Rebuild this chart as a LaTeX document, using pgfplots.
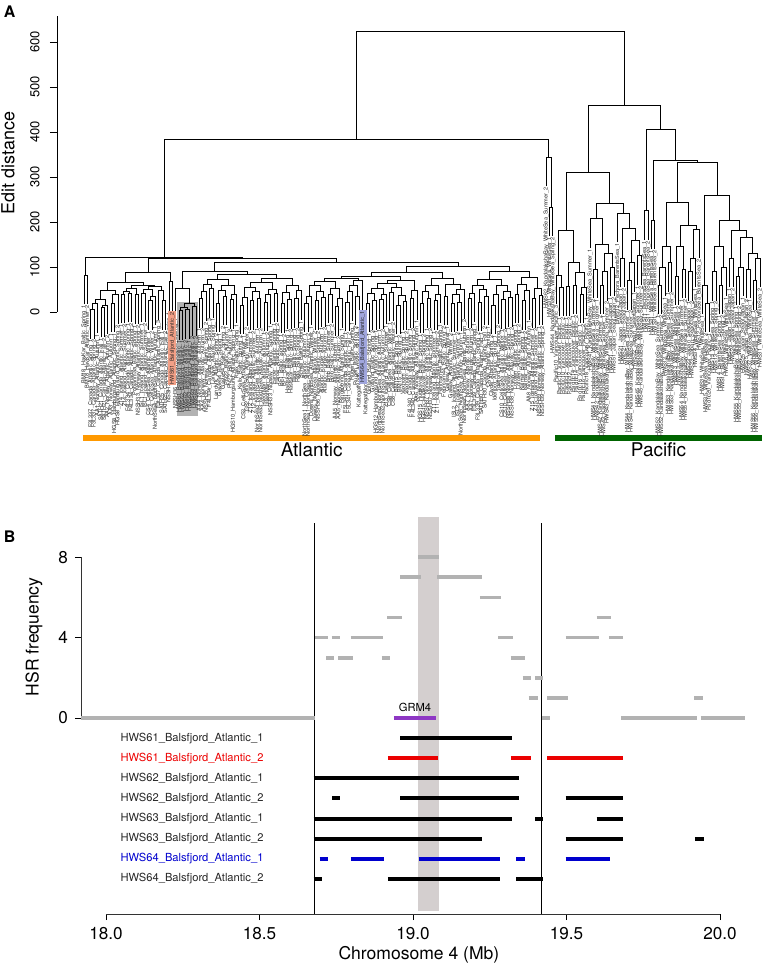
\documentclass[border=0pt]{standalone}
\usepackage{fontspec}
\setmainfont{TeX Gyre Heros}
\usepackage{pgfplots}
\usepackage{pgfplotstable}
\pgfplotsset{compat=1.18}
\definecolor{hsrgray}{RGB}{178,178,178}
\definecolor{bandgray}{RGB}{212,207,207}
\definecolor{grmpurple}{RGB}{142,55,196}
\definecolor{atlorange}{RGB}{255,153,0}
\definecolor{pacgreen}{RGB}{0,100,0}
\definecolor{hlred}{RGB}{242,160,135}
\definecolor{hlblue}{RGB}{160,166,221}
\definecolor{rowred}{RGB}{235,0,0}
\definecolor{rowblue}{RGB}{0,0,205}

\pgfplotstableread[row sep=\\]{
x y lab\\
0 17 BM18\_HavKar\_Baltic\_Spring\_1\\
1 17 BM18\_HavKar\_Atlantic\_Winter\_2\\
2 -59 F3L337\_Canada\_Atlantic\_Spring\_1\\
3 -59 F3L337\_Canada\_Atlantic\_Spring\_2\\
4 -47 AA1\_Norway\_Atlantic\_Autumn\_1\\
5 -56 SATH21\_Canada\_Atlantic\_Fall\_1\\
6 -56 SATH21\_Canada\_Atlantic\_Fall\_2\\
7 -50 AA2\_Norway\_Atlantic\_Autumn\_2\\
8 -45 AA3\_Norway\_Atlantic\_Autumn\_1\\
9 -45 HGS8\_Hamburgsund\_Atlantic\_Spring\_1\\
10 -27 HGS8\_Hamburgsund\_Atlantic\_Spring\_2\\
11 -25 Z14\_Iceland\_Atlantic\_Summer\_1\\
12 -25 Z14\_Iceland\_Atlantic\_Summer\_2\\
13 -23 F4L334\_Canada\_Atlantic\_Spring\_1\\
14 -23 F4L334\_Canada\_Atlantic\_Spring\_2\\
15 -27 Pohjanmaa\_Baltic\_Spring\_1\\
16 -27 NSSH33\_Norway\_Atlantic\_Spring\_2\\
17 -23 ISL1\_Iceland\_Atlantic\_Summer\_1\\
18 -23 ISL1\_Iceland\_Atlantic\_Summer\_2\\
19 -40 CS4\_CelticSea\_Atlantic\_Winter\_1\\
20 -40 CS4\_CelticSea\_Atlantic\_Winter\_2\\
21 -30 NorthSea4\_NorthSea\_Atlantic\_Autumn\_1\\
22 -17 F3L337\_Canada\_Atlantic\_Spring\_3\\
23 -40 SATH25\_Canada\_Atlantic\_Fall\_1\\
24 -40 SATH25\_Canada\_Atlantic\_Fall\_2\\
25 2 NSSH34\_Norway\_Atlantic\_Spring\_1\\
27 -12 NSSH36\_Norway\_Atlantic\_Spring\_1\\
28 -62 HWS61\_Balsfjord\_Atlantic\_1\\
29 -62 HWS62\_Balsfjord\_Atlantic\_1\\
30 -60 HWS62\_Balsfjord\_Atlantic\_2\\
31 -60 HWS63\_Balsfjord\_Atlantic\_1\\
32 -53 HWS63\_Balsfjord\_Atlantic\_2\\
33 -53 HWS64\_Balsfjord\_Atlantic\_2\\
34 -35 AA4\_Norway\_Atlantic\_Autumn\_1\\
35 -35 AA4\_Norway\_Atlantic\_Autumn\_2\\
36 -20 NSSH35\_Norway\_Atlantic\_Spring\_2\\
37 -13 F4L334\_Canada\_Atlantic\_Spring\_3\\
38 -13 Landvik\_Atlantic\_Spring\_1\\
39 -45 Landvik\_Atlantic\_Spring\_2\\
40 -45 Gavle54\_Baltic\_Spring\_1\\
41 -30 Gavle54\_Baltic\_Spring\_2\\
42 -30 PN22\_Baltic\_Autumn\_1\\
43 -37 PN22\_Baltic\_Autumn\_2\\
44 -37 HGS10\_Hamburgsund\_Atlantic\_Spring\_1\\
45 -25 Kalix\_Baltic\_Spring\_1\\
46 -50 Kalix\_Baltic\_Spring\_2\\
47 -50 CS2\_CelticSea\_Atlantic\_Winter\_1\\
48 -32 CS2\_CelticSea\_Atlantic\_Winter\_2\\
49 -40 Z12\_Iceland\_Atlantic\_Summer\_1\\
50 -40 Z12\_Iceland\_Atlantic\_Summer\_2\\
51 -35 NorthSea3\_NorthSea\_Atlantic\_Autumn\_1\\
52 -35 NorthSea3\_NorthSea\_Atlantic\_Autumn\_2\\
53 -43 IsleofMan\_Atlantic\_Autumn\_1\\
54 -43 IsleofMan\_Atlantic\_Autumn\_2\\
55 -27 NSSH33\_Norway\_Atlantic\_Spring\_1\\
56 -23 Faroe\_Atlantic\_Spring\_1\\
57 -23 Faroe\_Atlantic\_Spring\_2\\
58 -47 BF1\_Baltic\_Spring\_1\\
59 -47 BF1\_Baltic\_Spring\_2\\
60 -37 Hastskar\_Baltic\_Spring\_1\\
61 -37 Hastskar\_Baltic\_Spring\_2\\
62 -35 Riga\_Baltic\_Spring\_1\\
63 -35 Riga\_Baltic\_Spring\_2\\
64 -18 Schlei\_Baltic\_Spring\_1\\
65 -45 NorthSea1\_NorthSea\_Atlantic\_Autumn\_1\\
66 -45 NorthSea1\_NorthSea\_Atlantic\_Autumn\_2\\
67 -30 Downs\_NorthSea\_Atlantic\_Winter\_1\\
68 -40 Downs\_NorthSea\_Atlantic\_Winter\_2\\
69 -40 NSSH36\_Norway\_Atlantic\_Spring\_2\\
70 -33 Atlantic\_Purple\_Autumn\_1\\
71 -33 Atlantic\_Purple\_Autumn\_2\\
72 -25 Bmb\_Baltic\_Summer\_1\\
73 -25 Bmb\_Baltic\_Summer\_2\\
74 -53 AA5\_Norway\_Atlantic\_Autumn\_1\\
75 -53 AA5\_Norway\_Atlantic\_Autumn\_2\\
76 -35 Ringkobing\_Atlantic\_Spring\_1\\
77 -43 F5L341\_Canada\_Atlantic\_Fall\_1\\
78 -43 F5L341\_Canada\_Atlantic\_Fall\_2\\
79 -20 Rugen\_Baltic\_Spring\_1\\
80 -30 Rugen\_Baltic\_Spring\_2\\
81 -30 KattegatNorth\_Atlantic\_Spring\_1\\
83 -45 KattegatNorth\_Atlantic\_Spring\_2\\
84 -45 Gotland\_Baltic\_Spring\_1\\
85 -39 Gotland\_Baltic\_Spring\_2\\
86 -39 HGS12\_Hamburgsund\_Atlantic\_Spring\_1\\
87 -37 NorthSea2\_NorthSea\_Atlantic\_Autumn\_1\\
88 -37 NorthSea2\_NorthSea\_Atlantic\_Autumn\_2\\
89 -27 Z13\_Iceland\_Atlantic\_Summer\_1\\
90 -21 CS8\_CelticSea\_Atlantic\_Winter\_1\\
91 -21 CS8\_CelticSea\_Atlantic\_Winter\_2\\
92 -50 BM15\_Baltic\_Spring\_1\\
93 -50 BM15\_Baltic\_Spring\_2\\
94 -41 Vaxholm\_Baltic\_Spring\_1\\
95 -41 Vaxholm\_Baltic\_Spring\_2\\
96 -35 F4L340\_Canada\_Atlantic\_Spring\_1\\
97 -35 F4L340\_Canada\_Atlantic\_Spring\_2\\
98 -17 AA6\_Norway\_Atlantic\_Autumn\_1\\
99 -47 HGS15\_Hudiksvall\_Baltic\_Spring\_1\\
100 -47 HGS15\_Hudiksvall\_Baltic\_Spring\_2\\
101 -35 NSSH37\_Norway\_Atlantic\_Spring\_1\\
102 -35 NSSH37\_Norway\_Atlantic\_Spring\_2\\
103 -40 Z11\_Iceland\_Atlantic\_Summer\_1\\
104 -40 Z11\_Iceland\_Atlantic\_Summer\_2\\
105 -25 Fehmarn44\_Baltic\_Spring\_1\\
106 -30 Fehmarn44\_Baltic\_Spring\_2\\
107 -30 Galway\_Atlantic\_Winter\_1\\
108 -45 Galway\_Atlantic\_Winter\_2\\
109 -45 ISL2\_Iceland\_Atlantic\_Summer\_1\\
110 -43 ISL2\_Iceland\_Atlantic\_Summer\_2\\
111 -43 NorthSea5\_NorthSea\_Atlantic\_Autumn\_1\\
112 -15 NorthSea5\_NorthSea\_Atlantic\_Autumn\_2\\
113 -35 AA7\_Norway\_Atlantic\_Autumn\_1\\
114 -35 AA7\_Norway\_Atlantic\_Autumn\_2\\
115 -23 F3L339\_Canada\_Atlantic\_Spring\_1\\
116 -43 F3L339\_Canada\_Atlantic\_Spring\_2\\
117 -43 SATH30\_Canada\_Atlantic\_Fall\_1\\
118 -30 SATH30\_Canada\_Atlantic\_Fall\_2\\
119 -30 Clyde\_Atlantic\_Spring\_1\\
120 -50 Clyde\_Atlantic\_Spring\_2\\
121 -50 Idefjord\_Atlantic\_Spring\_1\\
122 -27 Idefjord\_Atlantic\_Spring\_2\\
123 -37 CS10\_CelticSea\_Atlantic\_Winter\_1\\
124 -37 CS10\_CelticSea\_Atlantic\_Winter\_2\\
125 -33 NSSH38\_Norway\_Atlantic\_Spring\_1\\
126 -33 NSSH38\_Norway\_Atlantic\_Spring\_2\\
127 -25 Lofoten\_Atlantic\_Spring\_1\\
128 -25 Lofoten\_Atlantic\_Spring\_2\\
129 -40 Kalmar\_Baltic\_Spring\_1\\
130 -40 Kalmar\_Baltic\_Spring\_2\\
131 -17 AA8\_Norway\_Atlantic\_Autumn\_1\\
132 -35 Z15\_Iceland\_Atlantic\_Summer\_1\\
133 -35 Z15\_Iceland\_Atlantic\_Summer\_2\\
134 -29 NSSH39\_Norway\_Atlantic\_Spring\_1\\
135 -29 NSSH39\_Norway\_Atlantic\_Spring\_2\\
136 279 HWS62\_KandalakshaBay\_WhiteSea\_Summer\_2\\
137 168 HWS31\_WhiteSea\_WhiteSea\_1\\
138 168 HWS44\_KandalakshaBay\_WhiteSea\_Spring\_2\\
139 17 Pacific10\_Vancouver\_Pacific\_3\\
140 -10 Pacific10\_Vancouver\_Pacific\_1\\
141 -10 Pacific10\_Vancouver\_Pacific\_2\\
142 -9 Pacific12\_Vancouver\_Pacific\_1\\
143 -9 Pacific12\_Vancouver\_Pacific\_2\\
144 -5 Pacific14\_Vancouver\_Pacific\_1\\
145 -5 Pacific14\_Vancouver\_Pacific\_2\\
146 -25 Pacific16\_Vancouver\_Pacific\_1\\
147 -25 Pacific16\_Vancouver\_Pacific\_2\\
148 -10 Pacific18\_Vancouver\_Pacific\_1\\
149 142 HWS41\_KandalakshaBay\_WhiteSea\_Summer\_1\\
150 30 HWS41\_KandalakshaBay\_WhiteSea\_Summer\_2\\
151 30 HWS42\_KandalakshaBay\_WhiteSea\_Summer\_1\\
152 -5 HWS42\_KandalakshaBay\_WhiteSea\_Summer\_2\\
153 -5 HWS43\_KandalakshaBay\_WhiteSea\_Summer\_1\\
154 25 HWS43\_KandalakshaBay\_WhiteSea\_Summer\_2\\
155 35 HWS51\_Japan\_SeaofJapan\_1\\
156 35 HWS51\_Japan\_SeaofJapan\_2\\
157 155 HWS12\_Pechora\_BarentsSea\_1\\
158 55 HWS21\_Japan\_SeaofJapan\_1\\
159 55 HWS21\_Japan\_SeaofJapan\_2\\
160 5 HWS44\_KandalakshaBay\_WhiteSea\_Summer\_1\\
161 5 HWS44\_KandalakshaBay\_WhiteSea\_Summer\_2\\
162 45 HWS22\_Japan\_SeaofJapan\_1\\
163 60 HWS45\_KandalakshaBay\_WhiteSea\_Summer\_1\\
164 60 HWS45\_KandalakshaBay\_WhiteSea\_Summer\_2\\
165 160 HWS11\_PechoraSea\_BarentsSea\_1\\
166 160 HWS11\_PechoraSea\_BarentsSea\_2\\
167 139 HWS31\_WhiteSea\_BarentsSea\_1\\
168 139 HWS31\_WhiteSea\_BarentsSea\_2\\
169 -5 HWS52\_KandalakshaBay\_WhiteSea\_Summer\_1\\
170 -5 HWS52\_KandalakshaBay\_WhiteSea\_Summer\_2\\
171 35 HWS32\_WhiteSea\_WhiteSea\_1\\
172 45 HWS53\_KandalakshaBay\_WhiteSea\_Summer\_1\\
173 45 HWS53\_KandalakshaBay\_WhiteSea\_Summer\_2\\
174 15 HWS33\_WhiteSea\_WhiteSea\_1\\
175 15 HWS33\_WhiteSea\_WhiteSea\_2\\
176 30 HWS54\_KandalakshaBay\_WhiteSea\_Summer\_1\\
177 30 HWS54\_KandalakshaBay\_WhiteSea\_Summer\_2\\
178 25 HWS23\_Japan\_SeaofJapan\_1\\
179 25 HWS23\_Japan\_SeaofJapan\_2\\
180 55 HWS34\_WhiteSea\_WhiteSea\_1\\
181 119 HWS12\_PechoraSea\_BarentsSea\_2\\
182 -5 HWS35\_WhiteSea\_WhiteSea\_1\\
183 -45 HWS35\_WhiteSea\_WhiteSea\_2\\
184 -45 Pacific20\_Vancouver\_Pacific\_1\\
185 25 HWS13\_WhiteSea\_Spring\_1\\
186 25 HWS13\_WhiteSea\_Spring\_2\\
187 -5 HWS14\_BarentsSea\_Spring\_1\\
188 -5 HWS14\_BarentsSea\_Spring\_2\\
189 35 HWS36\_WhiteSea\_WhiteSea\_1\\
190 55 HWS24\_Japan\_SeaofJapan\_1\\
191 55 HWS24\_Japan\_SeaofJapan\_2\\
192 15 HWS55\_KandalakshaBay\_WhiteSea\_Spring\_1\\
193 15 HWS55\_KandalakshaBay\_WhiteSea\_Spring\_2\\
194 35 HWS25\_Japan\_SeaofJapan\_1\\
195 30 HWS25\_Japan\_SeaofJapan\_2\\
196 30 HWS37\_WhiteSea\_WhiteSea\_1\\
197 5 HWS56\_KandalakshaBay\_WhiteSea\_Summer\_1\\
198 5 HWS56\_KandalakshaBay\_WhiteSea\_Summer\_2\\
199 55 HWS31\_WhiteSea\_WhiteSea\_2\\
}\leaftab

\begin{document}
\begin{tikzpicture}
\useasboundingbox (0,0) rectangle (388.5bp,482.5bp);

\node[font=\bfseries\fontsize{8}{9}\selectfont] at (4.8bp,476.5bp) {A};
\node[font=\bfseries\fontsize{8}{9}\selectfont] at (4.8bp,214bp) {B};

% ---------------- Panel A: dendrogram ----------------
\begin{axis}[
  at={(28.5bp,326.5bp)}, anchor=south west, scale only axis,
  width=356.5bp, height=148.05bp,
  xmin=-7.95, xmax=201.9, ymin=0, ymax=658,
  axis x line=none, axis y line*=left,
  axis line style={-, black, line width=0.45bp},
  ytick={0,100,200,300,400,500,600},
  tick align=outside, major tick length=3.5bp,
  tick style={black, line width=0.45bp},
  yticklabel style={rotate=90, anchor=south, inner ysep=5bp, font=\fontsize{6.5}{7.5}\selectfont},
  /pgf/number format/assume math mode=true,
  ylabel={Edit distance},
  ylabel style={at={(axis description cs:-0.0687,0.503)}, anchor=center, font=\fontsize{9}{11}\selectfont},
  clip=false, unbounded coords=jump,
]
% highlight box around the Balsfjord cluster
\addplot[fill=gray!60, draw=none] coordinates {(27.5,22) (33.6,22) (33.6,-232) (27.5,-232)} -- cycle;

% dendrogram branches
\addplot[black, line width=0.45bp, mark=none] coordinates {
(0,17)(0,82)(1,82)(1,17)(0,nan)
(2,-59)(2,6)(3,6)(3,-59)(0,nan)
(2.5,6)(2.5,18)(4,18)(4,-47)(0,nan)
(5,-56)(5,9)(6,9)(6,-56)(0,nan)
(5.5,9)(5.5,15)(7,15)(7,-50)(0,nan)
(3.25,18)(3.25,27)(6.25,27)(6.25,15)(0,nan)
(8,-45)(8,20)(9,20)(9,-45)(0,nan)
(8.5,20)(8.5,38)(10,38)(10,-27)(0,nan)
(4.75,27)(4.75,47)(9.25,47)(9.25,38)(0,nan)
(11,-25)(11,40)(12,40)(12,-25)(0,nan)
(13,-23)(13,42)(14,42)(14,-23)(0,nan)
(11.5,40)(11.5,45)(13.5,45)(13.5,42)(0,nan)
(15,-27)(15,38)(16,38)(16,-27)(0,nan)
(12.5,45)(12.5,52)(15.5,52)(15.5,38)(0,nan)
(17,-23)(17,42)(18,42)(18,-23)(0,nan)
(19,-40)(19,25)(20,25)(20,-40)(0,nan)
(19.5,25)(19.5,35)(21,35)(21,-30)(0,nan)
(17.5,42)(17.5,50)(20.25,50)(20.25,35)(0,nan)
(23,-40)(23,25)(24,25)(24,-40)(0,nan)
(22,-17)(22,48)(23.5,48)(23.5,25)(0,nan)
(18.875,50)(18.875,56)(22.75,56)(22.75,48)(0,nan)
(14,52)(14,58)(20.81,58)(20.81,56)(0,nan)
(7,47)(7,66)(17.4,66)(17.4,58)(0,nan)
(25,2)(25,67)(26,67)(26,2)(0,nan)
(12.2,66)(12.2,87)(25.5,87)(25.5,67)(0,nan)
(28,-62)(28,3)(29,3)(29,-62)(0,nan)
(30,-60)(30,5)(31,5)(31,-60)(0,nan)
(28.5,3)(28.5,10)(30.5,10)(30.5,5)(0,nan)
(32,-53)(32,12)(33,12)(33,-53)(0,nan)
(29.5,10)(29.5,18)(32.5,18)(32.5,12)(0,nan)
(27,-12)(27,53)(31,53)(31,18)(0,nan)
(34,-35)(34,30)(35,30)(35,-35)(0,nan)
(34.5,30)(34.5,45)(36,45)(36,-20)(0,nan)
(37,-13)(37,52)(38,52)(38,-13)(0,nan)
(35.25,45)(35.25,62)(37.5,62)(37.5,52)(0,nan)
(39,-45)(39,20)(40,20)(40,-45)(0,nan)
(41,-30)(41,35)(42,35)(42,-30)(0,nan)
(39.5,20)(39.5,48)(41.5,48)(41.5,35)(0,nan)
(43,-37)(43,28)(44,28)(44,-37)(0,nan)
(43.5,28)(43.5,40)(45,40)(45,-25)(0,nan)
(40.5,48)(40.5,58)(44.25,58)(44.25,40)(0,nan)
(36.375,62)(36.375,72)(42.375,72)(42.375,58)(0,nan)
(46,-50)(46,15)(47,15)(47,-50)(0,nan)
(46.5,15)(46.5,33)(48,33)(48,-32)(0,nan)
(49,-40)(49,25)(50,25)(50,-40)(0,nan)
(51,-35)(51,30)(52,30)(52,-35)(0,nan)
(49.5,25)(49.5,45)(51.5,45)(51.5,30)(0,nan)
(47.25,33)(47.25,55)(50.5,55)(50.5,45)(0,nan)
(53,-43)(53,22)(54,22)(54,-43)(0,nan)
(53.5,22)(53.5,38)(55,38)(55,-27)(0,nan)
(56,-23)(56,42)(57,42)(57,-23)(0,nan)
(54.25,38)(54.25,50)(56.5,50)(56.5,42)(0,nan)
(48.875,55)(48.875,66)(55.375,66)(55.375,50)(0,nan)
(58,-47)(58,18)(59,18)(59,-47)(0,nan)
(60,-37)(60,28)(61,28)(61,-37)(0,nan)
(58.5,18)(58.5,44)(60.5,44)(60.5,28)(0,nan)
(62,-35)(62,30)(63,30)(63,-35)(0,nan)
(62.5,30)(62.5,47)(64,47)(64,-18)(0,nan)
(59.5,44)(59.5,60)(63.25,60)(63.25,47)(0,nan)
(52.125,66)(52.125,75)(61.375,75)(61.375,60)(0,nan)
(39.375,72)(39.375,84)(56.75,84)(56.75,75)(0,nan)
(29,53)(29,91)(48.06,91)(48.06,84)(0,nan)
(65,-45)(65,20)(66,20)(66,-45)(0,nan)
(65.5,20)(65.5,35)(67,35)(67,-30)(0,nan)
(68,-40)(68,25)(69,25)(69,-40)(0,nan)
(70,-33)(70,32)(71,32)(71,-33)(0,nan)
(68.5,25)(68.5,46)(70.5,46)(70.5,32)(0,nan)
(66.25,35)(66.25,58)(69.5,58)(69.5,46)(0,nan)
(72,-25)(72,40)(73,40)(73,-25)(0,nan)
(74,-53)(74,12)(75,12)(75,-53)(0,nan)
(74.5,12)(74.5,30)(76,30)(76,-35)(0,nan)
(72.5,40)(72.5,52)(75.25,52)(75.25,30)(0,nan)
(67.875,58)(67.875,68)(73.875,68)(73.875,52)(0,nan)
(77,-43)(77,22)(78,22)(78,-43)(0,nan)
(77.5,22)(77.5,45)(79,45)(79,-20)(0,nan)
(80,-30)(80,35)(81,35)(81,-30)(0,nan)
(78.25,45)(78.25,60)(80.5,60)(80.5,35)(0,nan)
(79.375,60)(79.375,70)(82,70)(82,5)(0,nan)
(70.875,68)(70.875,75)(80.69,75)(80.69,70)(0,nan)
(83,-45)(83,20)(84,20)(84,-45)(0,nan)
(85,-39)(85,26)(86,26)(86,-39)(0,nan)
(83.5,20)(83.5,42)(85.5,42)(85.5,26)(0,nan)
(87,-37)(87,28)(88,28)(88,-37)(0,nan)
(87.5,28)(87.5,38)(89,38)(89,-27)(0,nan)
(84.5,42)(84.5,52)(88.25,52)(88.25,38)(0,nan)
(90,-21)(90,44)(91,44)(91,-21)(0,nan)
(92,-50)(92,15)(93,15)(93,-50)(0,nan)
(94,-41)(94,24)(95,24)(95,-41)(0,nan)
(92.5,15)(92.5,36)(94.5,36)(94.5,24)(0,nan)
(90.5,44)(90.5,55)(93.5,55)(93.5,36)(0,nan)
(86.375,52)(86.375,64)(92,64)(92,55)(0,nan)
(96,-35)(96,30)(97,30)(97,-35)(0,nan)
(96.5,30)(96.5,48)(98,48)(98,-17)(0,nan)
(89.19,64)(89.19,70)(97.25,70)(97.25,48)(0,nan)
(75.78,75)(75.78,80)(93.22,80)(93.22,70)(0,nan)
(99,-47)(99,18)(100,18)(100,-47)(0,nan)
(101,-35)(101,30)(102,30)(102,-35)(0,nan)
(99.5,18)(99.5,45)(101.5,45)(101.5,30)(0,nan)
(103,-40)(103,25)(104,25)(104,-40)(0,nan)
(103.5,25)(103.5,40)(105,40)(105,-25)(0,nan)
(100.5,45)(100.5,58)(104.25,58)(104.25,40)(0,nan)
(106,-30)(106,35)(107,35)(107,-30)(0,nan)
(108,-45)(108,20)(109,20)(109,-45)(0,nan)
(110,-43)(110,22)(111,22)(111,-43)(0,nan)
(108.5,20)(108.5,38)(110.5,38)(110.5,22)(0,nan)
(109.5,38)(109.5,50)(112,50)(112,-15)(0,nan)
(106.5,35)(106.5,62)(110.75,62)(110.75,50)(0,nan)
(102.375,58)(102.375,74)(108.625,74)(108.625,62)(0,nan)
(84.5,80)(84.5,87)(105.5,87)(105.5,74)(0,nan)
(113,-35)(113,30)(114,30)(114,-35)(0,nan)
(113.5,30)(113.5,42)(115,42)(115,-23)(0,nan)
(116,-43)(116,22)(117,22)(117,-43)(0,nan)
(118,-30)(118,35)(119,35)(119,-30)(0,nan)
(116.5,22)(116.5,50)(118.5,50)(118.5,35)(0,nan)
(114.25,42)(114.25,60)(117.5,60)(117.5,50)(0,nan)
(120,-50)(120,15)(121,15)(121,-50)(0,nan)
(120.5,15)(120.5,38)(122,38)(122,-27)(0,nan)
(123,-37)(123,28)(124,28)(124,-37)(0,nan)
(125,-33)(125,32)(126,32)(126,-33)(0,nan)
(123.5,28)(123.5,46)(125.5,46)(125.5,32)(0,nan)
(121.25,38)(121.25,58)(124.5,58)(124.5,46)(0,nan)
(115.875,60)(115.875,72)(122.875,72)(122.875,58)(0,nan)
(127,-25)(127,40)(128,40)(128,-25)(0,nan)
(129,-40)(129,25)(130,25)(130,-40)(0,nan)
(129.5,25)(129.5,48)(131,48)(131,-17)(0,nan)
(127.5,40)(127.5,62)(130.25,62)(130.25,48)(0,nan)
(132,-35)(132,30)(133,30)(133,-35)(0,nan)
(134,-29)(134,36)(135,36)(135,-29)(0,nan)
(132.5,30)(132.5,52)(134.5,52)(134.5,36)(0,nan)
(128.875,62)(128.875,76)(133.5,76)(133.5,52)(0,nan)
(119.375,72)(119.375,90)(131.19,90)(131.19,76)(0,nan)
(95,87)(95,101)(125.28,101)(125.28,90)(0,nan)
(38.53,91)(38.53,109)(110.14,109)(110.14,101)(0,nan)
(18.85,87)(18.85,120)(74.33,120)(74.33,109)(0,nan)
(0.5,82)(0.5,122)(46.59,122)(46.59,120)(0,nan)
(137,168)(137,233)(138,233)(138,168)(0,nan)
(136,279)(136,344)(137.5,344)(137.5,233)(0,nan)
(23.55,122)(23.55,384)(136.75,384)(136.75,344)(0,nan)
(140,-10)(140,55)(141,55)(141,-10)(0,nan)
(139,17)(139,82)(140.5,82)(140.5,55)(0,nan)
(142,-9)(142,56)(143,56)(143,-9)(0,nan)
(144,-5)(144,60)(145,60)(145,-5)(0,nan)
(146,-25)(146,40)(147,40)(147,-25)(0,nan)
(146.5,40)(146.5,55)(148,55)(148,-10)(0,nan)
(144.5,60)(144.5,87)(147.25,87)(147.25,55)(0,nan)
(142.5,56)(142.5,111)(145.875,111)(145.875,87)(0,nan)
(139.75,82)(139.75,182)(144.19,182)(144.19,111)(0,nan)
(150,30)(150,95)(151,95)(151,30)(0,nan)
(152,-5)(152,60)(153,60)(153,-5)(0,nan)
(152.5,60)(152.5,90)(154,90)(154,25)(0,nan)
(155,35)(155,100)(156,100)(156,35)(0,nan)
(153.25,90)(153.25,131)(155.5,131)(155.5,100)(0,nan)
(150.5,95)(150.5,149)(154.375,149)(154.375,131)(0,nan)
(149,142)(149,207)(152.44,207)(152.44,149)(0,nan)
(158,55)(158,120)(159,120)(159,55)(0,nan)
(160,5)(160,70)(161,70)(161,5)(0,nan)
(160.5,70)(160.5,110)(162,110)(162,45)(0,nan)
(163,60)(163,125)(164,125)(164,60)(0,nan)
(161.25,110)(161.25,160)(163.5,160)(163.5,125)(0,nan)
(158.5,120)(158.5,185)(162.375,185)(162.375,160)(0,nan)
(157,155)(157,220)(160.44,220)(160.44,185)(0,nan)
(150.72,207)(150.72,242)(158.72,242)(158.72,220)(0,nan)
(141.97,182)(141.97,311)(154.72,311)(154.72,242)(0,nan)
(165,160)(165,225)(166,225)(166,160)(0,nan)
(167,139)(167,204)(168,204)(168,139)(0,nan)
(169,-5)(169,60)(170,60)(170,-5)(0,nan)
(169.5,60)(169.5,100)(171,100)(171,35)(0,nan)
(172,45)(172,110)(173,110)(173,45)(0,nan)
(170.25,100)(170.25,145)(172.5,145)(172.5,110)(0,nan)
(174,15)(174,80)(175,80)(175,15)(0,nan)
(176,30)(176,95)(177,95)(177,30)(0,nan)
(174.5,80)(174.5,145)(176.5,145)(176.5,95)(0,nan)
(178,25)(178,90)(179,90)(179,25)(0,nan)
(178.5,90)(178.5,120)(180,120)(180,55)(0,nan)
(179.25,120)(179.25,184)(181,184)(181,119)(0,nan)
(175.5,145)(175.5,193)(180.125,193)(180.125,184)(0,nan)
(171.375,145)(171.375,244)(177.81,244)(177.81,193)(0,nan)
(183,-45)(183,20)(184,20)(184,-45)(0,nan)
(182,-5)(182,60)(183.5,60)(183.5,20)(0,nan)
(185,25)(185,90)(186,90)(186,25)(0,nan)
(187,-5)(187,60)(188,60)(188,-5)(0,nan)
(187.5,60)(187.5,100)(189,100)(189,35)(0,nan)
(185.5,90)(185.5,145)(188.25,145)(188.25,100)(0,nan)
(190,55)(190,120)(191,120)(191,55)(0,nan)
(192,15)(192,80)(193,80)(193,15)(0,nan)
(192.5,80)(192.5,100)(194,100)(194,35)(0,nan)
(195,30)(195,95)(196,95)(196,30)(0,nan)
(197,5)(197,70)(198,70)(198,5)(0,nan)
(197.5,70)(197.5,120)(199,120)(199,55)(0,nan)
(195.5,95)(195.5,130)(198.25,130)(198.25,120)(0,nan)
(193.25,100)(193.25,165)(196.875,165)(196.875,130)(0,nan)
(190.5,120)(190.5,182)(195.06,182)(195.06,165)(0,nan)
(186.875,145)(186.875,204)(192.78,204)(192.78,182)(0,nan)
(182.75,60)(182.75,258)(189.83,258)(189.83,204)(0,nan)
(174.6,244)(174.6,333)(186.29,333)(186.29,258)(0,nan)
(167.5,204)(167.5,336)(180.44,336)(180.44,333)(0,nan)
(165.5,225)(165.5,406)(173.97,406)(173.97,336)(0,nan)
(148.35,311)(148.35,460)(169.73,460)(169.73,406)(0,nan)
(80.15,384)(80.15,623)(159.04,623)(159.04,460)
};

% leaf labels
\addplot[draw=none, mark=none, nodes near coords, point meta=explicit symbolic,
  every node near coord/.append style={rotate=90, anchor=east, inner sep=0.3bp,
    font=\fontsize{2.8}{3}\selectfont, text=black!85}]
  table[x=x, y=y, meta=lab] {\leaftab};
\addplot[draw=none, mark=none, nodes near coords, point meta=explicit symbolic,
  every node near coord/.append style={rotate=90, anchor=east, inner sep=0.6bp, fill=hlred,
    font=\fontsize{2.8}{3}\selectfont, text=black!85}]
  table[x=x, y=y, meta=lab, row sep=\\] {x y lab\\ 26 2 HWS61\_Balsfjord\_Atlantic\_2\\};
\addplot[draw=none, mark=none, nodes near coords, point meta=explicit symbolic,
  every node near coord/.append style={rotate=90, anchor=east, inner sep=0.6bp, fill=hlblue,
    font=\fontsize{2.8}{3}\selectfont, text=black!85}]
  table[x=x, y=y, meta=lab, row sep=\\] {x y lab\\ 82 5 HWS64\_Balsfjord\_Atlantic\_1\\};

% group bars
\addplot[atlorange, line width=3bp] coordinates {(-0.3,-280) (134.2,-280)};
\addplot[pacgreen, line width=3bp] coordinates {(138.7,-280) (199.6,-280)};
\node[font=\fontsize{9.5}{11}\selectfont] at (axis cs:67,-307) {Atlantic};
\node[font=\fontsize{9.5}{11}\selectfont] at (axis cs:169.1,-307) {Pacific};
\end{axis}

% ---------------- Panel B ----------------
\begin{axis}[
  at={(40.5bp,25.5bp)}, anchor=south west, scale only axis,
  width=337.9bp, height=198.5bp,
  xmin=17.9186, xmax=20.12, ymin=-9.75, ymax=10,
  axis x line*=bottom, axis y line*=left,
  axis line style={draw=none},
  xtick={18,18.5,19,19.5,20}, ytick={0,4,8},
  tick align=outside, major tick length=3bp,
  tick style={black, line width=0.45bp},
  tick label style={font=\fontsize{8.6}{10}\selectfont},
  /pgf/number format/assume math mode=true,
  xticklabel style={/pgf/number format/.cd, fixed, fixed zerofill, precision=1},
  xlabel={Chromosome 4 (Mb)}, ylabel={HSR frequency},
  xlabel style={at={(axis description cs:0.5,-0.103)}, anchor=center, font=\fontsize{8.8}{10}\selectfont},
  ylabel style={at={(axis description cs:-0.0695,0.698)}, anchor=center, font=\fontsize{8.8}{10}\selectfont},
  clip=false, unbounded coords=jump,
]
% GRM4 window
\addplot[fill=bandgray, draw=none] coordinates {(19.015,-9.6) (19.085,-9.6) (19.085,9.98) (19.015,9.98)} -- cycle;
% axis lines (R style, spanning the ticks only)
\addplot[black!80, line width=0.45bp] coordinates {(18,-9.75) (20,-9.75)};
\addplot[black!80, line width=0.45bp] coordinates {(17.9186,0) (17.9186,8)};
% region boundaries
\addplot[black, line width=0.45bp] coordinates {(18.68,-9.75) (18.68,9.7)};
\addplot[black, line width=0.45bp] coordinates {(19.42,-9.75) (19.42,9.7)};

% HSR frequency
\addplot[hsrgray, line width=1.8bp] coordinates {
(17.9186,0)(18.68,0)(0,nan)(19.42,0)(19.446,0)(0,nan)(19.677,0)(19.925,0)(0,nan)(19.937,0)(20.081,0)(0,nan)
(19.377,1)(19.406,1)(0,nan)(19.437,1)(19.506,1)(0,nan)(19.917,1)(19.946,1)(0,nan)
(19.357,2)(19.384,2)(0,nan)(19.397,2)(19.424,2)(0,nan)
(18.717,3)(18.744,3)(0,nan)(18.757,3)(18.804,3)(0,nan)(18.898,3)(18.925,3)(0,nan)(19.318,3)(19.365,3)(0,nan)
(18.681,4)(18.724,4)(0,nan)(18.735,4)(18.762,4)(0,nan)(18.797,4)(18.903,4)(0,nan)(19.278,4)(19.325,4)(0,nan)(19.497,4)(19.606,4)(0,nan)(19.638,4)(19.685,4)(0,nan)
(18.916,5)(18.965,5)(0,nan)(19.598,5)(19.645,5)(0,nan)
(19.218,6)(19.286,6)(0,nan)
(18.958,7)(19.025,7)(0,nan)(19.079,7)(19.224,7)(0,nan)
(19.017,8)(19.085,8)
};

% GRM4 gene
\addplot[grmpurple, line width=2bp] coordinates {(18.938,0) (19.076,0)};
\node[font=\fontsize{5.6}{6.5}\selectfont] at (axis cs:19.0065,0.55) {GRM4};

% HSR per haplotype
\addplot[black, line width=2bp] coordinates {
(18.958,-1)(19.323,-1)(0,nan)
(18.676,-3)(19.344,-3)(0,nan)
(18.737,-4)(18.763,-4)(0,nan)(18.958,-4)(19.344,-4)(0,nan)(19.497,-4)(19.685,-4)(0,nan)
(18.676,-5)(19.323,-5)(0,nan)(19.398,-5)(19.423,-5)(0,nan)(19.598,-5)(19.685,-5)(0,nan)
(18.676,-6)(19.224,-6)(0,nan)(19.497,-6)(19.685,-6)(0,nan)(19.918,-6)(19.947,-6)(0,nan)
(18.676,-8)(18.703,-8)(0,nan)(18.918,-8)(19.285,-8)(0,nan)(19.337,-8)(19.423,-8)
};
\addplot[rowred, line width=2bp] coordinates {
(18.918,-2)(19.083,-2)(0,nan)(19.319,-2)(19.384,-2)(0,nan)(19.438,-2)(19.685,-2)
};
\addplot[rowblue, line width=2bp] coordinates {
(18.696,-7)(18.723,-7)(0,nan)(18.798,-7)(18.904,-7)(0,nan)(19.018,-7)(19.285,-7)(0,nan)(19.337,-7)(19.366,-7)(0,nan)(19.497,-7)(19.643,-7)
};

\node[anchor=west, font=\fontsize{5.6}{6.5}\selectfont, text=black!85] at (axis cs:18.0248,-1) {HWS61\_Balsfjord\_Atlantic\_1};
\node[anchor=west, font=\fontsize{5.6}{6.5}\selectfont, text=rowred] at (axis cs:18.0248,-2) {HWS61\_Balsfjord\_Atlantic\_2};
\node[anchor=west, font=\fontsize{5.6}{6.5}\selectfont, text=black!85] at (axis cs:18.0248,-3) {HWS62\_Balsfjord\_Atlantic\_1};
\node[anchor=west, font=\fontsize{5.6}{6.5}\selectfont, text=black!85] at (axis cs:18.0248,-4) {HWS62\_Balsfjord\_Atlantic\_2};
\node[anchor=west, font=\fontsize{5.6}{6.5}\selectfont, text=black!85] at (axis cs:18.0248,-5) {HWS63\_Balsfjord\_Atlantic\_1};
\node[anchor=west, font=\fontsize{5.6}{6.5}\selectfont, text=black!85] at (axis cs:18.0248,-6) {HWS63\_Balsfjord\_Atlantic\_2};
\node[anchor=west, font=\fontsize{5.6}{6.5}\selectfont, text=rowblue] at (axis cs:18.0248,-7) {HWS64\_Balsfjord\_Atlantic\_1};
\node[anchor=west, font=\fontsize{5.6}{6.5}\selectfont, text=black!85] at (axis cs:18.0248,-8) {HWS64\_Balsfjord\_Atlantic\_2};
\end{axis}
\end{tikzpicture}
\end{document}
